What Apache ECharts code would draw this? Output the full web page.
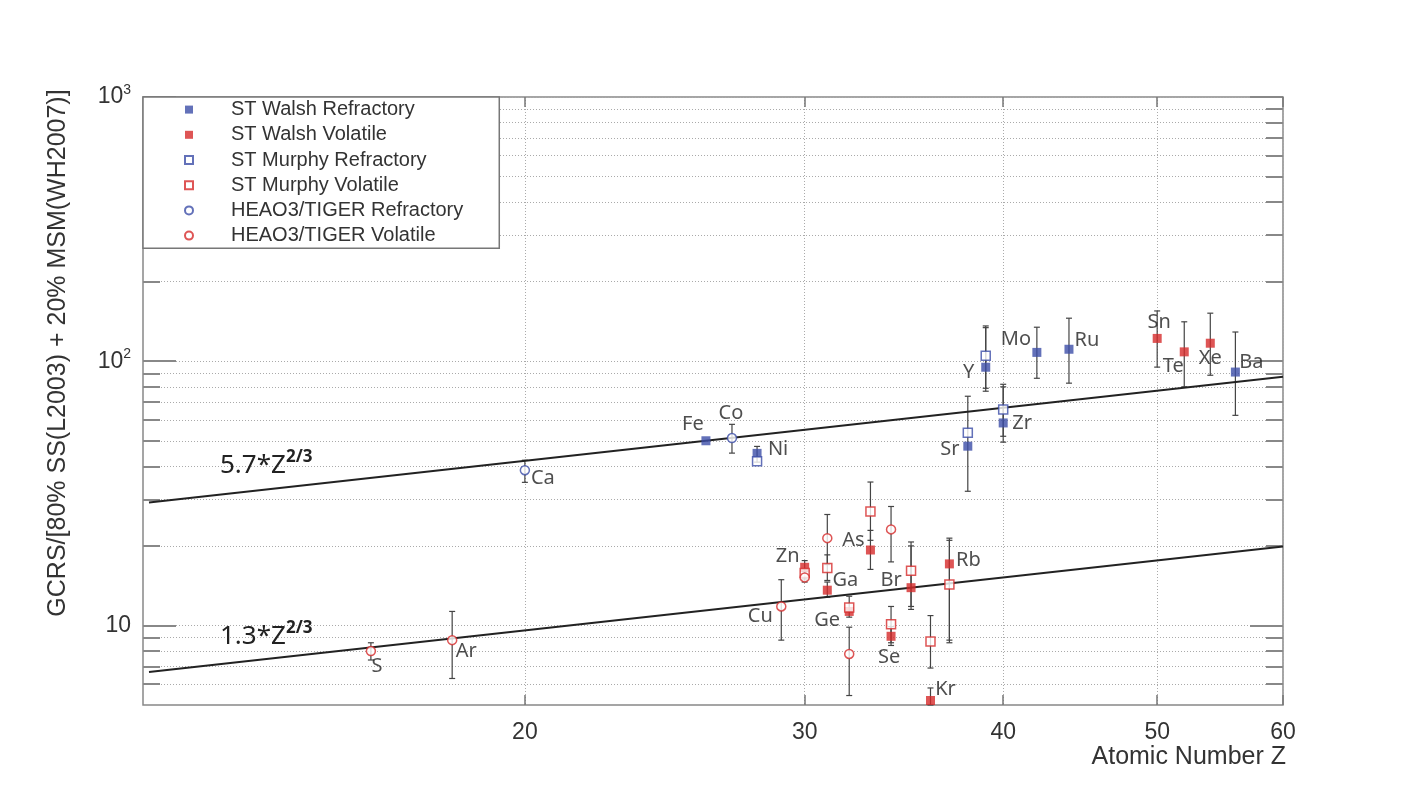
<!DOCTYPE html>
<html>
<head>
<meta charset="utf-8">
<script src="https://cdn.jsdelivr.net/npm/echarts@6/dist/echarts.min.js"></script>
<style>
  html, body { margin: 0; padding: 0; background: #fff; }
  #chart { width: 1428px; height: 803px; }
</style>
</head>
<body>
<div id="chart"></div>
<script>
// axis ticks
var zTicks = [20, 30, 40, 50, 60];
var yDecades = [10, 100, 1000];
var yMinors = [6, 7, 8, 9, 20, 30, 40, 50, 60, 70, 80, 90, 200, 300, 400, 500, 600, 700, 800, 900];

// points [Z, ratio]
var walshRefractory = [[26, 50.0], [28, 44.8], [38, 47.7], [39, 94.9], [40, 58.4], [42, 108], [44, 111], [56, 91]];
var walshVolatile = [[30, 16.6], [31, 13.6], [32, 11.3], [33, 19.3], [34, 9.1], [35, 13.9], [36, 5.2], [37, 17.1], [50, 122], [52, 108.5], [54, 117]];
var murphyRefractory = [[28, 41.8], [38, 53.6], [39, 105], [40, 65.6]];
var murphyVolatile = [[30, 15.8], [31, 16.5], [32, 11.7], [33, 27.0], [34, 10.1], [35, 16.1], [36, 8.7], [37, 14.3]];
var heaoRefractory = [[20, 38.7], [27, 51.2]];
var heaoVolatile = [[16, 8.0], [18, 8.8], [29, 11.8], [30, 15.2], [31, 21.4], [32, 7.8], [34, 23.1]];

// error bars [Z, low, high]
var walshRefractoryErr = [[28, 41.5, 47.6], [38, 32.2, 73.7], [39, 77, 134], [40, 49.4, 81.8], [42, 86.2, 134.5], [44, 82.6, 145.5], [56, 62.4, 129]];
var walshVolatileErr = [[30, 15.0, 17.6], [31, 12.8, 14.6], [32, 10.75, 12.9], [33, 16.3, 22.9], [34, 8.4, 9.9], [35, 11.5, 20.7], [36, 5.0, 5.8], [37, 8.6, 21.4], [50, 95, 155], [52, 80, 141], [54, 88.5, 152]];
var murphyRefractoryErr = [[39, 79, 136], [40, 52, 80]];
var murphyVolatileErr = [[31, 14.8, 18.5], [33, 21, 34.9], [34, 8.6, 11.8], [35, 11.8, 20], [36, 6.9, 10.9], [37, 8.8, 21]];
var heaoRefractoryErr = [[20, 34.8, 42.2], [27, 44.9, 57.7]];
var heaoVolatileErr = [[16, 7.4, 8.6], [18, 6.3, 11.3], [29, 8.8, 14.9], [30, 14.6, 16], [31, 17, 26.3], [32, 5.43, 9.85], [34, 17.4, 28.2]];

// fit lines 5.7*Z^(2/3) and 1.3*Z^(2/3), end points
var fitZ = [11.6, 60];
var fitHigh = [29.2, 87.4];
var fitLow = [6.66, 19.9];

// element names anchored on their points
var elementLabels = [['Fe', 26, 50], ['Co', 27, 51.2], ['Ni', 28, 44.8], ['Ca', 20, 38.7], ['Sr', 38, 47.7],
  ['Y', 39, 94.9], ['Zr', 40, 58.4], ['Mo', 42, 108], ['Ru', 44, 111], ['Sn', 50, 122], ['Te', 52, 108.5],
  ['Xe', 54, 117], ['Ba', 56, 91], ['Zn', 30, 16.6], ['Ga', 31, 13.6], ['Ge', 32, 11.3], ['As', 33, 19.3],
  ['Se', 34, 9.1], ['Br', 35, 13.9], ['Kr', 36, 5.2], ['Rb', 37, 17.1], ['Cu', 29, 11.8], ['S', 16, 8.0], ['Ar', 18, 8.8]];

var labelOffset = {
  Fe: [-13, -16], Co: [-1, -25], Ni: [21, -4], Ca: [18, 8], Sr: [-18, 3], Y: [-17, 5], Zr: [19, 0],
  Mo: [-21, -13], Ru: [18, -9], Sn: [2, -16], Te: [-11, 14], Xe: [0, 15], Ba: [16, -10],
  Zn: [-17, -11], Ga: [18, -10], Ge: [-22, 9], As: [-17, -10], Se: [-2, 21], Br: [-20, -7],
  Kr: [15, -11], Rb: [19, -4], Cu: [-21, 10], S: [6, 15], Ar: [14, 11]
};

var BLUE = '#3c4ea8';
var RED = '#d62b2b';
var AXIS_FONT = 'Liberation Sans';

function errorBars(data) {
  return {
    type: 'custom',
    xAxisIndex: 0, yAxisIndex: 0,
    silent: true, z: 2,
    data: data,
    encode: { x: 0, y: [1, 2] },
    renderItem: function (params, api) {
      var x = api.value(0);
      var lo = api.coord([x, api.value(1)]);
      var hi = api.coord([x, api.value(2)]);
      var w = 3;
      var style = { stroke: '#444', lineWidth: 1.2 };
      return {
        type: 'group',
        children: [
          { type: 'line', shape: { x1: lo[0], y1: lo[1], x2: hi[0], y2: hi[1] }, style: style },
          { type: 'line', shape: { x1: lo[0] - w, y1: lo[1], x2: lo[0] + w, y2: lo[1] }, style: style },
          { type: 'line', shape: { x1: hi[0] - w, y1: hi[1], x2: hi[0] + w, y2: hi[1] }, style: style }
        ]
      };
    }
  };
}

function points(name, data, symbol, color, hollow) {
  return {
    name: name, type: 'scatter', z: 4,
    data: data, symbol: symbol, symbolSize: 9,
    itemStyle: hollow ? { color: '#fff', borderColor: color, borderWidth: 1.5 } : { color: color }
  };
}

var dotted = { color: '#aaa', type: [1, 2], width: 1 };

function yAxisDef(pos, values, len, labels, grid) {
  return {
    type: 'log', logBase: 10, min: 5, max: 1000, position: pos,
    axisLine: { show: false },
    axisTick: { show: true, inside: true, length: len, customValues: values, lineStyle: { color: '#888', width: 2 } },
    axisLabel: labels ? {
      show: true, customValues: values, margin: 12, color: '#333', fontFamily: AXIS_FONT, fontSize: 23,
      formatter: function (v) {
        var e = Math.round(Math.log10(v));
        return e === 1 ? '{b|10}' : '{b|10}{s|' + e + '}';
      },
      rich: {
        b: { fontSize: 23, fontFamily: AXIS_FONT, color: '#333', lineHeight: 28 },
        s: { fontSize: 14, fontFamily: AXIS_FONT, color: '#333', verticalAlign: 'top', lineHeight: 14 }
      }
    } : { show: false },
    splitLine: { show: grid, lineStyle: dotted }
  };
}

function xAxisDef(pos, labels) {
  return {
    type: 'log', logBase: 10, min: 11.5, max: 60, position: pos,
    axisLine: { show: false },
    axisTick: { show: true, inside: true, length: 10, customValues: zTicks, lineStyle: { color: '#777', width: 1.5 } },
    axisLabel: labels ? { show: true, customValues: zTicks, margin: 16, color: '#333', fontFamily: AXIS_FONT, fontSize: 23 } : { show: false },
    splitLine: { show: labels, lineStyle: dotted }
  };
}

var formulaRich = {
  m: { fontFamily: 'Noto Sans', fontSize: 26, fill: '#222', lineHeight: 34 },
  s: { fontFamily: 'Noto Sans', fontSize: 17, fontWeight: 'bold', fill: '#222', verticalAlign: 'top', lineHeight: 17 }
};

var option = {
  animation: false,
  backgroundColor: '#fff',
  grid: { left: 143, right: 145, top: 97, bottom: 98, show: true, borderColor: '#888', borderWidth: 1.5, backgroundColor: 'transparent' },
  xAxis: [xAxisDef('bottom', true), xAxisDef('top', false)],
  yAxis: [
    yAxisDef('left', yDecades, 33, true, true),
    yAxisDef('right', yDecades, 33, false, false),
    yAxisDef('left', yMinors, 17, false, true),
    yAxisDef('right', yMinors, 17, false, false)
  ],
  legend: {
    orient: 'vertical', left: 143, top: 97,
    padding: [0, 36, 0, 41], itemGap: 0, itemWidth: 8, itemHeight: 8,
    backgroundColor: '#fff', borderColor: '#777', borderWidth: 1.5, borderRadius: 0,
    selectedMode: false,
    textStyle: { fontFamily: AXIS_FONT, fontSize: 20, color: '#333', lineHeight: 25.2, padding: [0, 0, 0, 33] },
    data: ['ST Walsh Refractory', 'ST Walsh Volatile', 'ST Murphy Refractory', 'ST Murphy Volatile',
      'HEAO3/TIGER Refractory', 'HEAO3/TIGER Volatile']
  },
  graphic: [
    { type: 'text', left: 220, top: 449, z: 10, style: { text: '{m|5.7*Z}{s|2/3}', rich: formulaRich } },
    { type: 'text', left: 220, top: 620, z: 10, style: { text: '{m|1.3*Z}{s|2/3}', rich: formulaRich } },
    {
      type: 'text', right: 142, top: 745, z: 10,
      style: { text: 'Atomic Number Z', fontFamily: AXIS_FONT, fontSize: 25, fill: '#333' }
    },
    {
      type: 'text', x: 58, y: 353, rotation: Math.PI / 2, z: 10,
      style: {
        text: 'GCRS/[80% SS(L2003) + 20% MSM(WH2007)]', fontFamily: AXIS_FONT, fontSize: 25, fill: '#333',
        align: 'center', verticalAlign: 'middle'
      }
    }
  ],
  series: [
    {
      type: 'line', silent: true, symbol: 'none', z: 3,
      data: fitZ.map(function (z, i) { return [z, fitHigh[i]]; }),
      lineStyle: { color: '#222', width: 2 }
    },
    {
      type: 'line', silent: true, symbol: 'none', z: 3,
      data: fitZ.map(function (z, i) { return [z, fitLow[i]]; }),
      lineStyle: { color: '#222', width: 2 }
    },
    errorBars(walshRefractoryErr),
    errorBars(walshVolatileErr),
    errorBars(murphyRefractoryErr),
    errorBars(murphyVolatileErr),
    errorBars(heaoRefractoryErr),
    errorBars(heaoVolatileErr),
    points('ST Walsh Refractory', walshRefractory, 'rect', BLUE, false),
    points('ST Walsh Volatile', walshVolatile, 'rect', RED, false),
    points('ST Murphy Refractory', murphyRefractory, 'rect', BLUE, true),
    points('ST Murphy Volatile', murphyVolatile, 'rect', RED, true),
    points('HEAO3/TIGER Refractory', heaoRefractory, 'circle', BLUE, true),
    points('HEAO3/TIGER Volatile', heaoVolatile, 'circle', RED, true),
    {
      type: 'scatter', silent: true, symbolSize: 0, z: 5,
      itemStyle: { color: '#222' },
      data: elementLabels.map(function (e) {
        return { name: e[0], value: [e[1], e[2]], label: { offset: labelOffset[e[0]] } };
      }),
      label: {
        show: true, position: 'inside', formatter: '{b}',
        fontFamily: 'Noto Sans', fontSize: 20, color: '#222',
        textBorderWidth: 0, textBorderColor: 'transparent'
      }
    }
  ]
};

var chart = echarts.init(document.getElementById('chart'));
chart.setOption(option);
</script>
</body>
</html>
